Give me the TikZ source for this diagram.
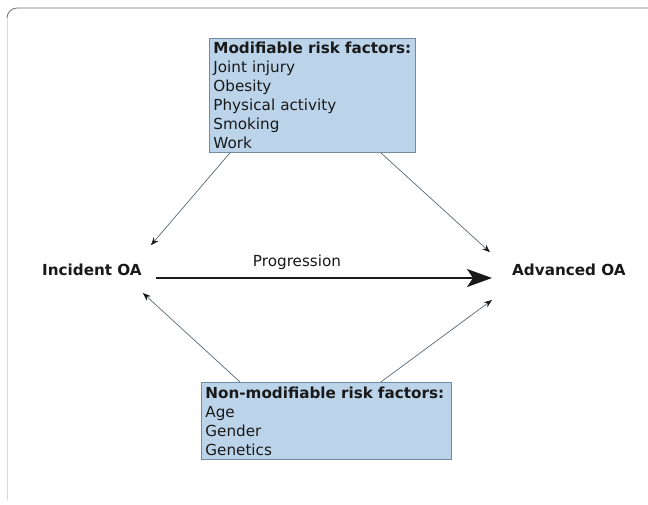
\documentclass[tikz,border=0pt]{standalone}
\usepackage{fontspec}
\setmainfont{DejaVu Sans}
\usetikzlibrary{arrows.meta}
\definecolor{boxfill}{RGB}{188,212,234}
\definecolor{boxline}{RGB}{112,140,165}
\definecolor{thinline}{RGB}{90,105,115}
\definecolor{txt}{RGB}{25,25,25}
\begin{document}
\begin{tikzpicture}[x=1pt,y=1pt,
  factorbox/.style={draw=boxline, fill=boxfill, line width=0.8pt, align=left,
    anchor=north west, inner xsep=4pt, inner ysep=0pt, text=txt,
    font=\fontsize{15.2}{19}\selectfont},
  stagelabel/.style={inner sep=0pt, text=txt, font=\fontsize{15.2}{19}\selectfont\bfseries},
  thinarrow/.style={draw=thinline, line width=0.7pt, -{Stealth[length=8pt,width=6pt,color=txt]}},
  mainarrow/.style={draw=txt, line width=1.6pt, -{Stealth[length=25pt,width=18pt,inset=6pt]}}]
\useasboundingbox (0,0) rectangle (648,504);
\fill[white] (0,0) rectangle (648,504);
% outer frame
\draw[black!15, line width=0.8pt] (7,4) -- (7,486);
\draw[black!55, line width=0.8pt] (7,486) arc[start angle=180,end angle=90,radius=10] -- (648,496);
% boxes
\node[factorbox, minimum width=206pt, minimum height=114pt, text width=198pt] (mod) at (209,466)
  {\mbox{\textbf{Modifiable risk factors:}}\\Joint injury\\Obesity\\Physical activity\\Smoking\\Work};
\node[factorbox, minimum width=250pt, minimum height=77pt, text width=242pt] (nonmod) at (201,122)
  {\mbox{\textbf{Non-modifiable risk factors:}}\\Age\\Gender\\Genetics};
% stages
\node[stagelabel, anchor=base west] (inc) at (42,229) {Incident OA};
\node[stagelabel, anchor=base west] (adv) at (512,229) {Advanced OA};
\node[inner sep=0pt, text=txt, font=\fontsize{15.2}{19}\selectfont, anchor=base] (prog) at (297,237) {Progression};
% arrows
\draw[mainarrow] ([shift={(14pt,-3pt)}]inc.base east) -- ([shift={(-20pt,-3pt)}]adv.base west);
\draw[thinarrow] ([xshift=21pt]mod.south west) -- ([shift={(9pt,18pt)}]inc.north east);
\draw[thinarrow] ([xshift=-35pt]mod.south east) -- ([shift={(-22pt,11pt)}]adv.north west);
\draw[thinarrow] ([xshift=39pt]nonmod.north west) -- ([shift={(1pt,-18pt)}]inc.base east);
\draw[thinarrow] ([xshift=-71pt]nonmod.north east) -- ([shift={(-20pt,-25pt)}]adv.base west);
\end{tikzpicture}
\end{document}
